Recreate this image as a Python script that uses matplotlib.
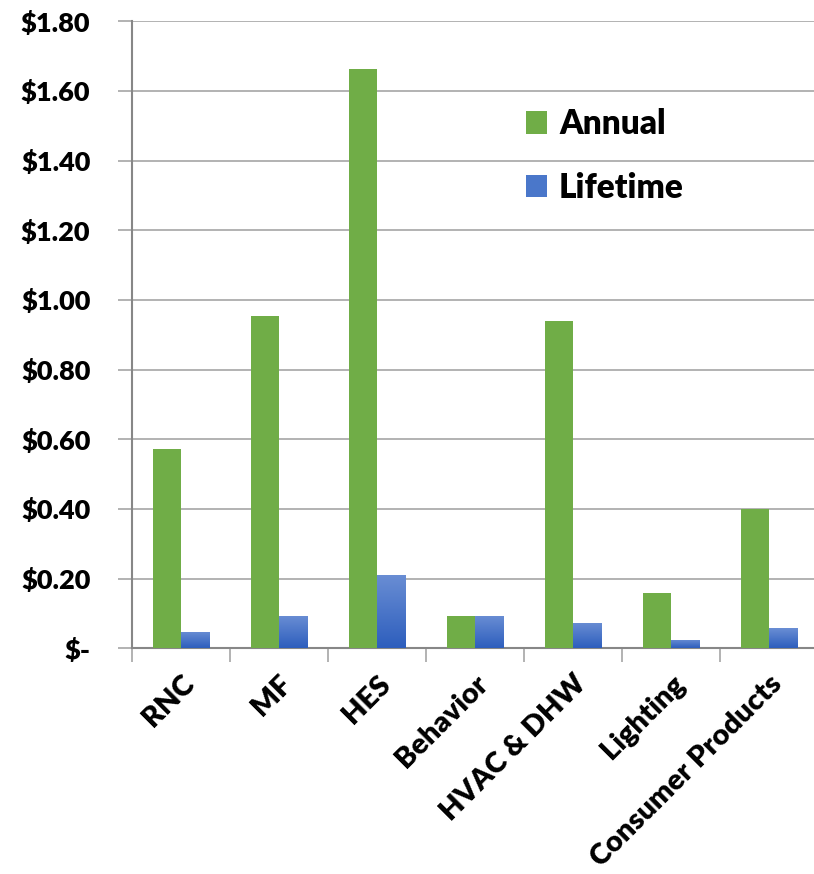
import numpy as np
import matplotlib
matplotlib.use("Agg")
import matplotlib.pyplot as plt
from matplotlib.colors import LinearSegmentedColormap
from matplotlib.patches import Patch

categories = ["RNC", "MF", "HES", "Behavior", "HVAC & DHW", "Lighting", "Consumer Products"]
annual = [0.573, 0.953, 1.662, 0.094, 0.940, 0.160, 0.401]
lifetime = [0.047, 0.093, 0.210, 0.094, 0.074, 0.023, 0.057]
yticks = [0.0, 0.2, 0.4, 0.6, 0.8, 1.0, 1.2, 1.4, 1.6, 1.8]
ytick_labels = ["$-", "$0.20", "$0.40", "$0.60", "$0.80", "$1.00", "$1.20", "$1.40", "$1.60", "$1.80"]

plt.rcParams["font.family"] = ["Lato", "DejaVu Sans"]
WEIGHT = "heavy"

GREEN = "#70AD47"
BLUE_TOP = "#6A8ED4"
BLUE_BOTTOM = "#2D5EBD"
GRID = "#A6A6A6"
AXIS = "#878787"

fig = plt.figure(figsize=(8.14, 8.74), dpi=100)
ax = fig.add_axes([132 / 814, 225.7 / 874, 686 / 814, 627 / 874])

x = np.arange(len(categories))
w = 0.29

ax.bar(x - w / 2, annual, w, color=GREEN, zorder=3, linewidth=0)
blue_bars = ax.bar(x + w / 2, lifetime, w, color=BLUE_BOTTOM, zorder=3, linewidth=0)

# vertical gradient fill on the lifetime bars
cmap = LinearSegmentedColormap.from_list("blue_grad", [BLUE_BOTTOM, BLUE_TOP])
grad = np.linspace(0, 1, 256).reshape(-1, 1)
for bar in blue_bars:
    x0 = bar.get_x()
    h = bar.get_height()
    im = ax.imshow(grad, extent=[x0, x0 + bar.get_width(), 0, h], origin="lower",
                   aspect="auto", cmap=cmap, zorder=4, interpolation="bilinear")
    im.set_clip_path(bar)

ax.set_xlim(-0.5, len(categories) - 0.5)
ax.set_ylim(0, 1.8)
ax.set_aspect("auto")

ax.set_yticks(yticks)
ax.set_yticklabels(ytick_labels, fontsize=19.5, fontweight=WEIGHT)
ax.yaxis.grid(True, color=GRID, linewidth=1.2, zorder=0)
ax.set_axisbelow(True)
ax.tick_params(axis="y", length=10, width=1.2, color=GRID, pad=20)

# category labels at centers, tick marks between categories
ax.set_xticks(x)
ax.set_xticklabels(categories, rotation=45, ha="right", va="top",
                   rotation_mode="anchor", fontsize=21, fontweight=WEIGHT)
ax.tick_params(axis="x", which="major", length=0, pad=16)
ax.set_xticks(np.arange(-0.5, len(categories), 1.0), minor=True)
ax.tick_params(axis="x", which="minor", length=10, width=1.2, color=GRID)

for side in ("top", "right"):
    ax.spines[side].set_visible(False)
ax.spines["left"].set_color(AXIS)
ax.spines["left"].set_linewidth(1.5)
ax.spines["bottom"].set_color(AXIS)
ax.spines["bottom"].set_linewidth(1.5)

handles = [Patch(facecolor=GREEN, label="Annual"),
           Patch(facecolor="#4A77CA", label="Lifetime")]
leg = ax.legend(handles=handles, loc="center left", bbox_to_anchor=(0.574, 0.785),
                frameon=False, prop={"size": 24, "weight": WEIGHT},
                borderpad=0, borderaxespad=0,
                handlelength=0.65, handleheight=0.65, handletextpad=0.35,
                labelspacing=0.95)

fig.savefig("out.png", dpi=100, facecolor="white")
